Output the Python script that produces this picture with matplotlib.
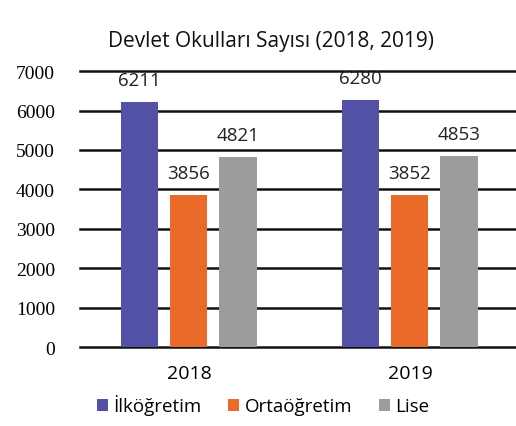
import matplotlib.pyplot as plt
import numpy as np

# data
years = ["2018", "2019"]
ilkogretim = [6211, 6280]
ortaogretim = [3856, 3852]
lise = [4821, 4853]
series_names = ["İlköğretim", "Ortaöğretim", "Lise"]
yticks = [0, 1000, 2000, 3000, 4000, 5000, 6000, 7000]

colors = ["#5352a6", "#ea6a2a", "#9c9c9c"]

fig = plt.figure(figsize=(5.16, 4.27), dpi=100)
ax = fig.add_axes([0.155, 0.185, 0.845, 0.646])

x = np.arange(len(years))
w = 0.168
off = 0.222
for i, (vals, c) in enumerate(zip([ilkogretim, ortaogretim, lise], colors)):
    pos = x + (i - 1) * off
    ax.bar(pos, vals, width=w, color=c, label=series_names[i], zorder=3)
    for p, v in zip(pos, vals):
        ax.text(p, v + 330, str(v), ha="center", va="bottom",
                fontsize=13.5, family="Open Sans", color="#222222", zorder=4)

ax.set_ylim(0, 7000)
ax.set_xlim(-0.493, 1.48)
ax.set_yticks(yticks)
ax.set_yticklabels([str(t) for t in yticks], family="Liberation Serif", fontsize=14)
ax.tick_params(axis="y", length=0, pad=18)
ax.set_xticks(x)
ax.set_xticklabels(years, family="Open Sans", fontsize=14)
ax.tick_params(axis="x", length=0, pad=12)
for t in yticks:
    ax.axhline(t, color="#111111", lw=1.8, zorder=1, clip_on=False)
for s in ax.spines.values():
    s.set_visible(False)

fig.text(0.525, 0.89, "Devlet Okulları Sayısı (2018, 2019)", ha="center",
         fontsize=15, family="Open Sans", color="#111111")

ax.legend(loc="upper center", bbox_to_anchor=(0.42, -0.11), ncol=3, frameon=False,
          prop={"family": "Open Sans", "size": 13.5}, handlelength=0.6, handleheight=0.6,
          handletextpad=0.3, columnspacing=1.4)

fig.savefig("out.png", dpi=100)
